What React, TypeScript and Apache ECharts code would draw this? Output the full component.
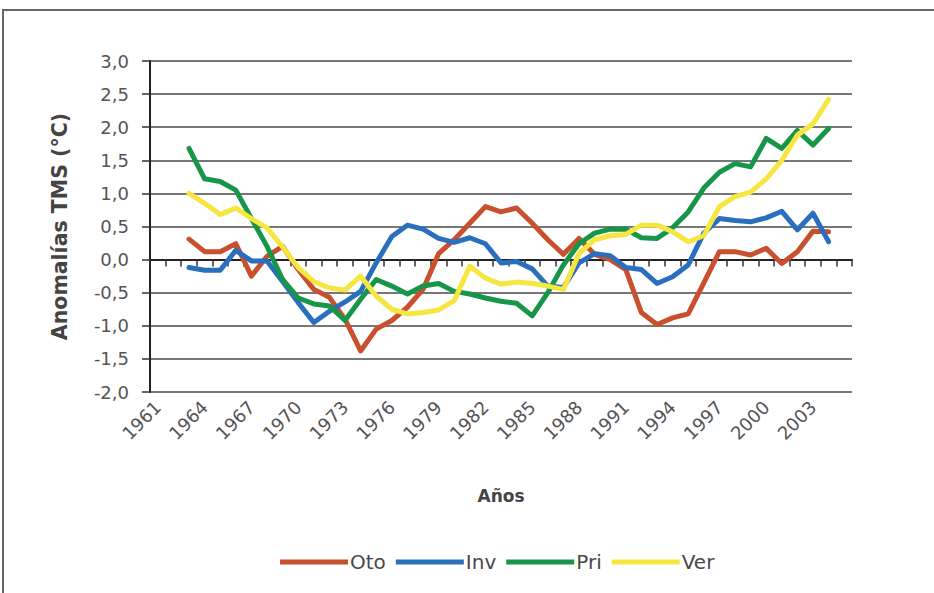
import React, { useEffect, useRef } from "react";
import * as echarts from "echarts";

const years = [
  "1961", "1962", "1963", "1964", "1965", "1966", "1967", "1968", "1969", "1970",
  "1971", "1972", "1973", "1974", "1975", "1976", "1977", "1978", "1979", "1980",
  "1981", "1982", "1983", "1984", "1985", "1986", "1987", "1988", "1989", "1990",
  "1991", "1992", "1993", "1994", "1995", "1996", "1997", "1998", "1999", "2000",
  "2001", "2002", "2003", "2004", "2005",
];

// values from 1963 to 2004
const firstYear = "1963";
const oto = [
  0.31, 0.12, 0.12, 0.24, -0.25, 0.05, 0.2, -0.15, -0.45, -0.57,
  -0.9, -1.38, -1.05, -0.92, -0.72, -0.45, 0.09, 0.3, 0.55, 0.8,
  0.72, 0.78, 0.55, 0.3, 0.08, 0.32, 0.08, 0.0, -0.15, -0.8,
  -0.98, -0.88, -0.82, -0.35, 0.12, 0.12, 0.07, 0.17, -0.06, 0.12,
  0.43, 0.42,
];
const inv = [
  -0.12, -0.16, -0.16, 0.14, -0.02, -0.02, -0.33, -0.65, -0.95, -0.78,
  -0.64, -0.48, -0.05, 0.35, 0.52, 0.46, 0.32, 0.26, 0.33, 0.24,
  -0.05, -0.03, -0.14, -0.4, -0.42, -0.05, 0.09, 0.06, -0.12, -0.15,
  -0.36, -0.26, -0.08, 0.4, 0.62, 0.59, 0.57, 0.63, 0.73, 0.45,
  0.7, 0.27,
];
const pri = [
  1.68, 1.22, 1.18, 1.05, 0.62, 0.2, -0.3, -0.58, -0.67, -0.7,
  -0.92, -0.6, -0.3, -0.4, -0.52, -0.4, -0.36, -0.48, -0.52, -0.58,
  -0.63, -0.66, -0.85, -0.5, -0.08, 0.24, 0.4, 0.46, 0.46, 0.33,
  0.32, 0.48, 0.72, 1.08, 1.32, 1.45, 1.4, 1.83, 1.68, 1.95,
  1.73, 1.98,
];
const ver = [
  1.0, 0.85, 0.68, 0.78, 0.62, 0.48, 0.19, -0.12, -0.33, -0.43,
  -0.46, -0.25, -0.55, -0.75, -0.82, -0.8, -0.76, -0.62, -0.1, -0.28,
  -0.37, -0.34, -0.36, -0.4, -0.45, 0.09, 0.3, 0.36, 0.38, 0.52,
  0.52, 0.42, 0.27, 0.36, 0.8, 0.95, 1.02, 1.22, 1.5, 1.88,
  2.05, 2.42,
];

const seriesNames = ["Oto", "Inv", "Pri", "Ver"];
const seriesColors = ["#C8502F", "#2A6EBE", "#17964A", "#F6E640"];

function pad(values: number[]): (number | null)[] {
  const start = years.indexOf(firstYear);
  return years.map((_, i) => {
    const k = i - start;
    return k >= 0 && k < values.length ? values[k] : null;
  });
}

export default function App() {
  const ref = useRef<HTMLDivElement>(null);
  useEffect(() => {
    document.body.style.margin = "0";
    if (!ref.current) return;
    const chart = echarts.init(ref.current, null, { renderer: "svg" });
    const font = "DejaVu Sans";
    const data = [oto, inv, pri, ver];
    chart.setOption({
      animation: false,
      backgroundColor: "#ffffff",
      graphic: [
        {
          type: "rect",
          shape: { x: 3, y: 10, width: 1000, height: 1000 },
          style: { fill: "none", stroke: "#666666", lineWidth: 2 },
          silent: true,
        },
      ],
      grid: { left: 150, right: 82, top: 61, bottom: 201, containLabel: false },
      legend: {
        data: seriesNames,
        left: 280,
        top: 552,
        padding: 0,
        icon: "rect",
        itemWidth: 68,
        itemHeight: 5,
        itemGap: 10,
        textStyle: { fontFamily: font, fontSize: 20, color: "#484848", padding: [0, 0, 0, -3] },
      },
      xAxis: {
        type: "category",
        data: years,
        boundaryGap: true,
        name: "Años",
        nameLocation: "middle",
        nameGap: 95,
        nameTextStyle: { fontFamily: font, fontSize: 17, fontWeight: "bold", color: "#444444" },
        axisLine: { show: true, lineStyle: { color: "#222222", width: 2 } },
        axisTick: { show: true, interval: 0, length: 7, lineStyle: { color: "#333333", width: 1.5 } },
        axisLabel: {
          interval: 2,
          rotate: 45,
          margin: 12,
          fontFamily: font,
          fontSize: 18,
          color: "#555555",
        },
        splitLine: { show: false },
      },
      yAxis: {
        type: "value",
        min: -2,
        max: 3,
        interval: 0.5,
        name: "Anomalías TMS (°C)",
        nameLocation: "middle",
        nameGap: 80,
        nameRotate: 90,
        nameTextStyle: { fontFamily: font, fontSize: 20.5, fontWeight: "bold", color: "#444444" },
        axisLine: { show: true, lineStyle: { color: "#222222", width: 2 } },
        axisTick: { show: true, length: 8, lineStyle: { color: "#333333", width: 1.5 } },
        axisLabel: {
          margin: 21,
          fontFamily: font,
          fontSize: 18,
          color: "#555555",
          formatter: (v: number) => v.toFixed(1).replace(".", ","),
        },
        splitLine: { show: true, lineStyle: { color: "#777777", width: 2 } },
      },
      series: seriesNames.map((name, i) => ({
        name,
        type: "line",
        data: pad(data[i]),
        showSymbol: false,
        symbol: "none",
        connectNulls: false,
        color: seriesColors[i],
        lineStyle: { width: 5, color: seriesColors[i], cap: "round", join: "round" },
      })),
    });
    return () => chart.dispose();
  }, []);
  return <div ref={ref} style={{ width: 934, height: 593 }} />;
}
